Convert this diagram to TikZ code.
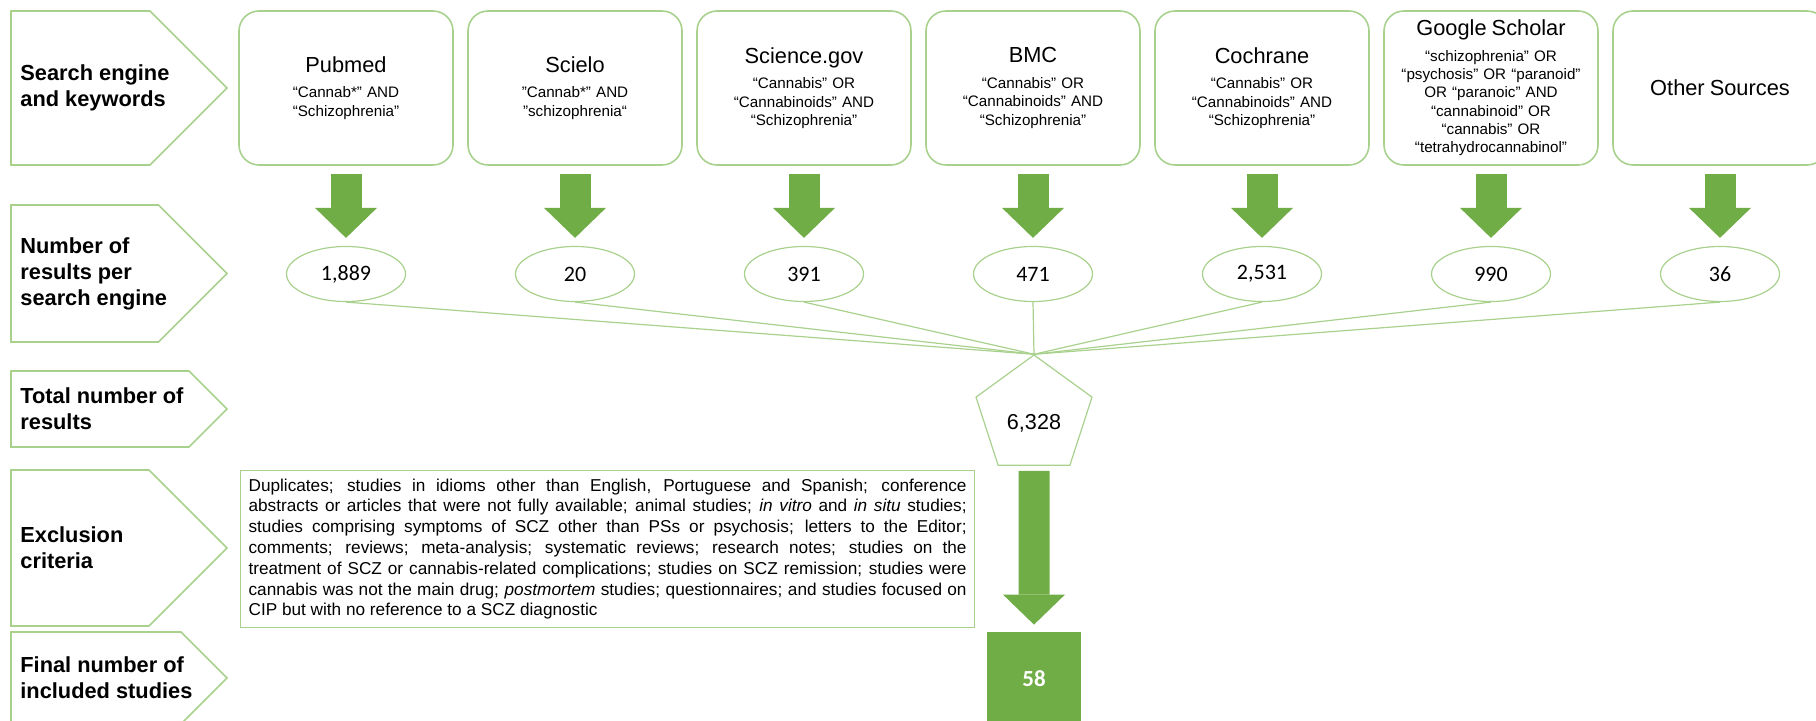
\documentclass[tikz,border=0pt]{standalone}
\usepackage{fontspec}
\setmainfont{Liberation Sans}
\newfontfamily\numfont{Carlito}
\usetikzlibrary{shapes.geometric,arrows.meta}

\definecolor{leafgreen}{HTML}{70AD47}
\definecolor{palegreen}{HTML}{A9D18E}

\newcommand\enginename{\fontsize{10.9}{13}\selectfont}

\tikzset{
  rowlabel/.style={anchor=west,align=left,inner sep=0pt,
    font=\fontsize{10.9}{13}\selectfont\bfseries},
  engine/.style={draw=palegreen,line width=0.8pt,rounded corners=10pt,
    minimum width=107pt,minimum height=77pt,text width=100pt,
    inner xsep=2pt,align=center,font=\fontsize{7.6}{9.15}\selectfont},
  hits/.style={ellipse,draw=palegreen,line width=0.6pt,minimum width=59.5pt,
    minimum height=27.5pt,inner sep=0pt,font=\numfont\fontsize{11}{13}\selectfont},
  fatarrow/.style={leafgreen,line width=15.5pt,
    -{Triangle[width=31pt,length=15pt,line width=0pt]},
    shorten <=4pt,shorten >=4pt},
  funnel/.style={palegreen,line width=0.6pt},
}

\begin{document}
\begin{tikzpicture}[x=0.5pt,y=-0.5pt]
\useasboundingbox (0,0) rectangle (1816,721);
\clip (0,0) rectangle (1816,721);

% row labels (chevrons on the left)
\foreach \ya/\yb/\txt [count=\i] in {
    11/165/{Search engine\\and keywords},
    205/342/{Number of\\results per\\search engine},
    371/447/{Total number of\\results},
    470/626/{Exclusion\\criteria},
    632/724/{Final number of\\included studies}}
{
  \draw[palegreen,line width=0.8pt] (11,\ya) -- ({227-(\yb-\ya)/2},\ya)
    -- (227,{(\ya+\yb)/2}) -- ({227-(\yb-\ya)/2},\yb) -- (11,\yb) -- cycle;
  \node[rowlabel] (lab\i) at (20,{(\ya+\yb)/2}) {\txt};
}

% search engines and their keywords
\foreach \nm/\kw [count=\i] in {
    Pubmed/{“Cannab*” AND\\“Schizophrenia”},
    Scielo/{"Cannab*" AND\\"schizophrenia“},
    Science.gov/{“Cannabis” OR\\“Cannabinoids” AND\\“Schizophrenia”},
    BMC/{“Cannabis” OR\\“Cannabinoids” AND\\“Schizophrenia”},
    Cochrane/{“Cannabis” OR\\“Cannabinoids” AND\\“Schizophrenia”},
    Google Scholar/{“schizophrenia” OR\\“psychosis” OR “paranoid”\\OR “paranoic” AND\\“cannabinoid” OR\\“cannabis” OR\\“tetrahydrocannabinol”}}
  \node[engine] (src\i) at ({346+229*(\i-1)},88) {{\enginename\nm}\\[3.65pt]\kw};
\node[engine] (src7) at (1720,88) {\enginename Other Sources};

% hits per engine
\foreach \n [count=\i] in {{1,889},20,391,471,{2,531},990,36}
  \node[hits] (hit\i) at ({346+229*(\i-1)},274) {\n};

\foreach \i in {1,...,7}
  \draw[fatarrow] (src\i) -- (hit\i);

% total
\node[regular polygon,regular polygon sides=5,draw=palegreen,line width=0.6pt,
  minimum size=61pt,inner sep=0pt,text height=16pt,text depth=2pt,
  font=\fontsize{10.8}{13}\selectfont]
  (total) at (1034,416) {6,328};

\foreach \i in {1,...,7}
  \draw[funnel] (hit\i.south) -- (total.corner 1);

% exclusion criteria
\node[draw=palegreen,line width=0.6pt,anchor=north west,text width=359pt,
  inner sep=4pt,align=justify,font=\fontsize{8.6}{10.4}\selectfont]
  (excl) at (240,470) {Duplicates; studies in idioms other than English, Portuguese and Spanish; conference\linebreak
  abstracts or articles that were not fully available; animal studies; \textit{in vitro} and \textit{in situ} studies;\linebreak
  studies comprising symptoms of SCZ other than PSs or psychosis; letters to the Editor;\linebreak
  comments; reviews; meta-analysis; systematic reviews; research notes; studies on the\linebreak
  treatment of SCZ or cannabis-related complications; studies on SCZ remission; studies were\linebreak
  cannabis was not the main drug; \textit{postmortem} studies; questionnaires; and studies focused on\linebreak
  CIP but with no reference to a SCZ diagnostic};

% final number
\node[fill=leafgreen,minimum width=47pt,minimum height=47pt,text=white,
  font=\numfont\bfseries\fontsize{11.5}{13}\selectfont] (kept) at (1034,679) {58};
\draw[fatarrow,shorten <=2.5pt,shorten >=3.5pt] (total) -- (kept);
\end{tikzpicture}
\end{document}
